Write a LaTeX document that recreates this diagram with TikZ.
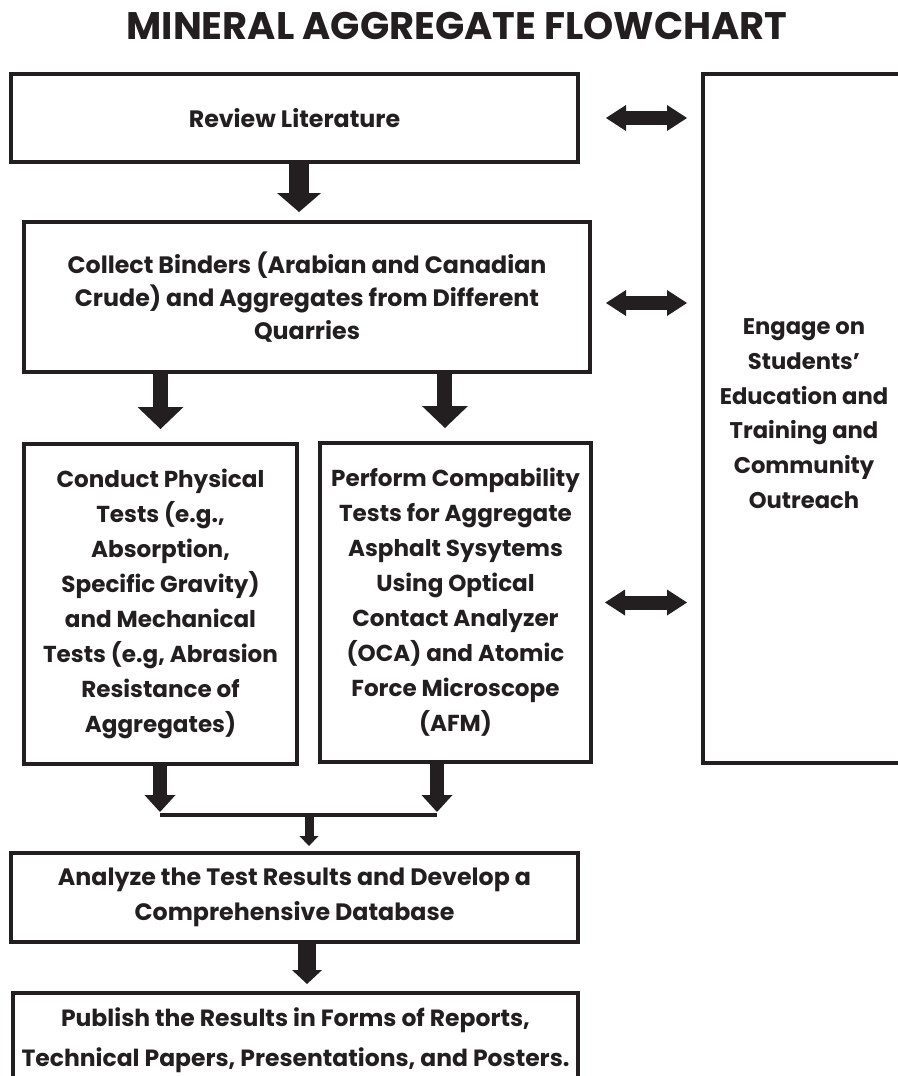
\documentclass[tikz,border=0pt]{standalone}
\usepackage{fontspec}
\setmainfont{Poppins}
\usetikzlibrary{arrows.meta}
\definecolor{ink}{HTML}{231F20}
\begin{document}
\begin{tikzpicture}[x=0.75pt,y=-0.75pt,
  box/.style={draw=ink, line width=3pt, inner sep=0pt, align=center, text=ink,
    font=\bfseries\fontsize{17.3}{26.25}\selectfont},
  blk/.style={draw=ink, line cap=butt},
  downA/.style={blk, line width=15pt, -{Triangle[width=33pt,length=14.25pt,line width=0pt]}},
  downB/.style={blk, line width=11.25pt, -{Triangle[width=34.5pt,length=16.5pt,line width=0pt]}},
  downC/.style={blk, line width=10.5pt, -{Triangle[width=23.25pt,length=12.75pt,line width=0pt]}},
  downD/.style={blk, line width=6.75pt, -{Triangle[width=14.25pt,length=7.5pt,line width=0pt]}},
  downE/.style={blk, line width=13pt, -{Triangle[width=22.5pt,length=10.5pt,line width=0pt]}},
  both/.style={blk, line width=10.5pt,
    {Triangle[width=19.5pt,length=15pt,line width=0pt]}-{Triangle[width=19.5pt,length=15pt,line width=0pt]}}
]
\useasboundingbox (0,0) rectangle (898,1076);
\fill[white] (0,0) rectangle (898,1076);

\node[text=ink, font=\bfseries\fontsize{28.8}{32}\selectfont] (title) at (457,26) {MINERAL AGGREGATE FLOWCHART};

\node[box, minimum width=567*0.75pt, minimum height=88*0.75pt,
  font=\bfseries\fontsize{17.8}{26.25}\selectfont] (review) at (294.5,118) {Review Literature};

\node[box, minimum width=566*0.75pt, minimum height=150*0.75pt,
  font=\bfseries\fontsize{17.8}{24.75}\selectfont] (collect) at (307,297)
  {Collect Binders (Arabian and Canadian\\Crude) and Aggregates from Different\\Quarries};

\node[box, minimum width=273*0.75pt, minimum height=320*0.75pt] (conduct) at (160.5,604)
  {Conduct Physical\\Tests (e.g.,\\Absorption,\\Specific Gravity)\\and Mechanical\\Tests (e.g, Abrasion\\Resistance of\\Aggregates)};

\node[box, minimum width=271*0.75pt, minimum height=319*0.75pt] (perform) at (455.5,602.5)
  {Perform Compability\\Tests for Aggregate\\Asphalt Sysytems\\Using Optical\\Contact Analyzer\\(OCA) and Atomic\\Force Microscope\\(AFM)};

\node[box, minimum width=202*0.75pt, minimum height=689*0.75pt] (engage) at (804,418.5) {};
\node[text=ink, inner sep=0pt, align=center, font=\bfseries\fontsize{17}{26}\selectfont] (engagetext) at (804,413.5)
  {Engage on\\Students'\\Education and\\Training and\\Community\\Outreach};

\node[box, minimum width=567*0.75pt, minimum height=89*0.75pt,
  font=\bfseries\fontsize{17.8}{26.25}\selectfont] (analyze) at (294.5,897.5)
  {Analyze the Test Results and Develop a\\Comprehensive Database};

\node[box, minimum width=565*0.75pt, minimum height=94*0.75pt,
  font=\bfseries\fontsize{17.6}{30}\selectfont] (publish) at (295.5,1040)
  {Publish the Results in Forms of Reports,\\Technical Papers, Presentations, and Posters.};

% down arrows
\draw[downA, shorten >=6pt] ([xshift=3.4pt]review.south) -- ([xshift=3.4pt]review.south |- collect.north);
\draw[downB, shorten >=9.75pt] (collect.south -| conduct.north) -- (conduct.north);
\draw[downB, shorten >=9.75pt] ([xshift=-7.9pt]perform.north |- collect.south) -- ([xshift=-7.9pt]perform.north);

\coordinate (jl) at (160,815);
\coordinate (jr) at (437,815);
\coordinate (jm) at (309,815);
\draw[downC, shorten >=2.25pt] (jl |- conduct.south) -- (jl);
\draw[downC, shorten >=2.25pt] (jr |- perform.south) -- (jr);
\draw[draw=ink, line width=3pt] (jl) -- (jr);
\draw[downD, shorten >=3.75pt] (jm) -- (jm |- analyze.north);
\draw[downE, shorten >=5.25pt] ([xshift=9.4pt]analyze.south) -- ([xshift=9.4pt]analyze.south |- publish.north);

% double arrows
\draw[both, shorten <=19.5pt, shorten >=10.5pt] (review.east) -- (review.east -| engage.west);
\draw[both, shorten <=10.5pt, shorten >=10.5pt] ([yshift=-4.5pt]collect.east) -- ([yshift=-4.5pt]collect.east -| engage.west);
\draw[both, shorten <=9pt, shorten >=10.5pt] (perform.east) -- (perform.east -| engage.west);
\end{tikzpicture}
\end{document}
